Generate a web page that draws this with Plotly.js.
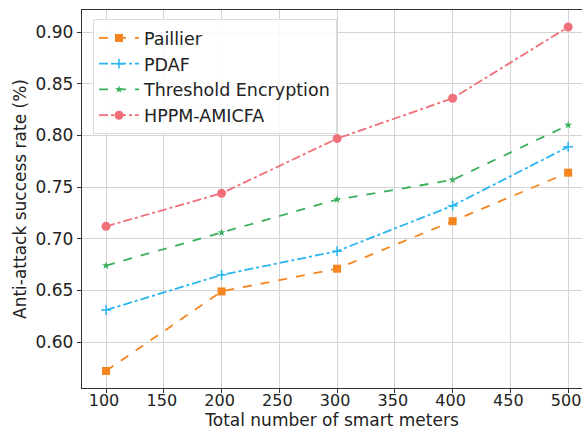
<!DOCTYPE html>
<html><head><meta charset="utf-8">
<script src="https://cdn.plot.ly/plotly-3.0.1.min.js"></script>
<style>html,body{margin:0;padding:0;background:#fff}#chart{width:582px;height:432px}</style>
</head><body><div id="chart"></div>
<script>
var meters = [100, 200, 300, 400, 500];
var paillier = [0.572, 0.649, 0.671, 0.717, 0.764];
var pdaf = [0.631, 0.665, 0.688, 0.732, 0.789];
var threshold = [0.674, 0.706, 0.738, 0.757, 0.810];
var hppm = [0.712, 0.744, 0.797, 0.836, 0.905];
var names = ['Paillier', 'PDAF', 'Threshold Encryption', 'HPPM-AMICFA'];
var xTicks = [100, 150, 200, 250, 300, 350, 400, 450, 500];
var yTicks = [0.60, 0.65, 0.70, 0.75, 0.80, 0.85, 0.90];

var styles = [
  {color: '#f5851f', dash: 'dash', symbol: 'square', size: 8},
  {color: '#2bb5f0', dash: 'dashdot', symbol: 'cross-thin', size: 7},
  {color: '#3aaf5c', dash: 'dash', symbol: 'star', size: 6},
  {color: '#f0707a', dash: 'dashdot', symbol: 'circle', size: 9}
];
var series = [paillier, pdaf, threshold, hppm];
var traces = series.map(function (s, i) {
  var st = styles[i];
  return {
    x: meters, y: s, name: names[i], type: 'scatter', mode: 'lines+markers',
    line: {color: st.color, dash: st.dash, width: 1.8},
    marker: {color: st.color, symbol: st.symbol, size: st.size, line: {color: st.color, width: st.symbol === 'cross-thin' ? 1.5 : 0}}
  };
});

var fam = 'DejaVu Sans, sans-serif';
var layout = {
  width: 582, height: 432,
  margin: {l: 82, r: 0, t: 10, b: 44},
  paper_bgcolor: '#fff', plot_bgcolor: '#fff',
  font: {family: fam, size: 17, color: '#222'},
  showlegend: true,
  legend: {x: 0.022, y: 0.976, xanchor: 'left', yanchor: 'top',
    bgcolor: 'rgba(255,255,255,0.85)', bordercolor: '#dcdcdc', borderwidth: 1,
    font: {family: fam, size: 17.5, color: '#222'},
    tracegroupgap: 0, itemwidth: 40},
  xaxis: {
    range: [79.2, 512], tickvals: xTicks, ticktext: xTicks.map(String),
    showgrid: true, gridcolor: '#d4d4d4', gridwidth: 1,
    showline: true, mirror: true, linecolor: '#333', linewidth: 1.2,
    ticks: 'outside', ticklen: 4, tickcolor: '#333', zeroline: false,
    ticklabeloverflow: 'allow', ticklabelstandoff: -6, ticklabelshift: -2,
    tickfont: {family: fam, size: 16, color: '#222'},
    title: {text: 'Total number of smart meters', standoff: 0, font: {family: fam, size: 17, color: '#222'}}
  },
  yaxis: {
    range: [0.5555, 0.9215], tickvals: yTicks, ticktext: yTicks.map(function (v) { return v.toFixed(2); }),
    showgrid: true, gridcolor: '#d4d4d4', gridwidth: 1,
    showline: true, mirror: false, linecolor: '#333', linewidth: 1.2,
    ticks: 'outside', ticklen: 4, tickcolor: '#333', zeroline: false,
    tickfont: {family: fam, size: 17, color: '#222'},
    title: {text: 'Anti-attack success rate (%)', standoff: 4, font: {family: fam, size: 17, color: '#222'}}
  }
};
Plotly.newPlot('chart', traces, layout, {staticPlot: true, displayModeBar: false});
</script></body></html>
